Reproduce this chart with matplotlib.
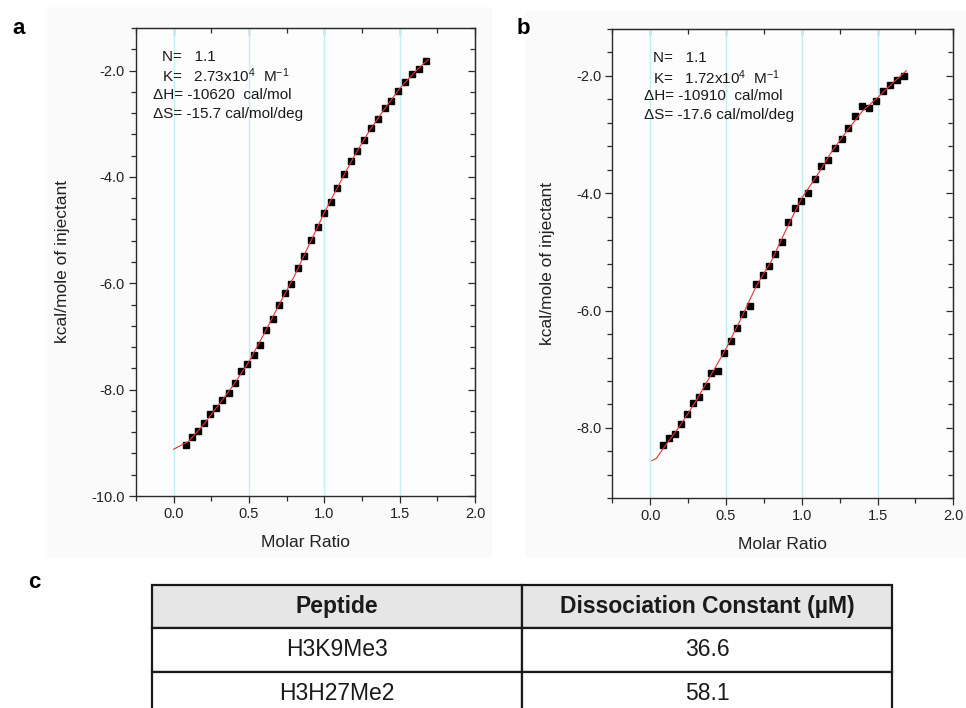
import matplotlib
matplotlib.use('Agg')
import matplotlib.pyplot as plt
from matplotlib.patches import Rectangle
from matplotlib.ticker import FormatStrFormatter
import numpy as np

plt.rcParams['font.family'] = ['Liberation Sans', 'DejaVu Sans']
plt.rcParams['mathtext.fontset'] = 'custom'
plt.rcParams['mathtext.rm'] = 'Liberation Sans'
plt.rcParams['mathtext.it'] = 'Liberation Sans:italic'
plt.rcParams['axes.unicode_minus'] = False

# panel a : H3K9Me3 titration
ratioA = [0.084, 0.124, 0.163, 0.203, 0.243, 0.283, 0.322, 0.364, 0.406, 0.446,
          0.488, 0.530, 0.572, 0.611, 0.656, 0.698, 0.737, 0.781, 0.823, 0.868,
          0.912, 0.956, 0.998, 1.042, 1.086, 1.130, 1.174, 1.219, 1.263, 1.309,
          1.353, 1.400, 1.444, 1.488, 1.534, 1.581, 1.627, 1.673]
heatA = [-9.04, -8.89, -8.77, -8.63, -8.46, -8.34, -8.20, -8.06, -7.87, -7.65,
         -7.52, -7.34, -7.16, -6.87, -6.68, -6.41, -6.19, -6.01, -5.71, -5.48,
         -5.19, -4.94, -4.68, -4.47, -4.21, -3.95, -3.70, -3.52, -3.30, -3.09,
         -2.91, -2.71, -2.58, -2.38, -2.22, -2.07, -1.98, -1.83]
fitRatioA = [0.0, 0.1, 0.2, 0.3, 0.4, 0.5, 0.6, 0.7, 0.8, 0.9, 1.0, 1.1, 1.2, 1.3, 1.4, 1.5, 1.6, 1.69]
fitHeatA = [-9.12, -8.97, -8.65, -8.28, -7.90, -7.47, -6.95, -6.40, -5.87, -5.27, -4.67, -4.13,
            -3.60, -3.13, -2.72, -2.34, -2.03, -1.79]
paramsA = ['N=   1.1', 'K=   2.73x10$^4$  M$^{-1}$', '\u0394H= -10620  cal/mol', '\u0394S= -15.7 cal/mol/deg']

# panel b : H3K27Me2 titration
ratioB = [0.084, 0.123, 0.163, 0.204, 0.242, 0.281, 0.323, 0.365, 0.404, 0.446,
          0.488, 0.530, 0.571, 0.613, 0.655, 0.699, 0.741, 0.782, 0.826, 0.868,
          0.912, 0.954, 0.998, 1.044, 1.088, 1.130, 1.174, 1.220, 1.264, 1.308,
          1.354, 1.400, 1.444, 1.490, 1.536, 1.582, 1.626, 1.675]
heatB = [-8.30, -8.18, -8.11, -7.93, -7.76, -7.58, -7.48, -7.28, -7.06, -7.03,
         -6.72, -6.52, -6.29, -6.06, -5.92, -5.54, -5.40, -5.24, -5.04, -4.83,
         -4.49, -4.25, -4.13, -4.00, -3.76, -3.54, -3.44, -3.23, -3.07, -2.88,
         -2.68, -2.51, -2.54, -2.42, -2.26, -2.15, -2.07, -2.00]
fitRatioB = [0.01, 0.04, 0.1, 0.2, 0.3, 0.4, 0.5, 0.6, 0.7, 0.8, 0.9, 1.0, 1.1, 1.2, 1.3, 1.4, 1.5, 1.6, 1.69]
fitHeatB = [-8.56, -8.52, -8.30, -7.95, -7.55, -7.10, -6.65, -6.13, -5.58, -5.15, -4.60, -4.08,
            -3.70, -3.28, -2.93, -2.60, -2.37, -2.12, -1.91]
paramsB = ['N=   1.1', 'K=   1.72x10$^4$  M$^{-1}$', '\u0394H= -10910  cal/mol', '\u0394S= -17.6 cal/mol/deg']

# panel c table
tableCols = ['Peptide', 'Dissociation Constant (\u00b5M)']
peptides = ['H3K9Me3', 'H3H27Me2']
kdValues = ['36.6', '58.1']

axisColor = '#2b2b2b'


def drawPanel(ax, ratio, heat, fitRatio, fitHeat, params, textX, ylim, yMajor, labelX):
    ax.set_facecolor('#fdfdfd')
    ax.set_xlim(-0.25, 2.0)
    ax.set_ylim(ylim)
    ax.grid(axis='x', which='major', color='#c4eef5', linewidth=1.0, zorder=0)
    ax.set_axisbelow(True)
    ax.plot(ratio, heat, 's', color='black', markersize=5.0, zorder=2)
    ax.plot(fitRatio, fitHeat, color='#e5333a', linewidth=0.8, zorder=3)

    ax.set_xticks(np.arange(0, 2.01, 0.5))
    ax.set_xticks(np.arange(-0.25, 2.01, 0.25), minor=True)
    ax.set_yticks(yMajor)
    yMinor = np.arange(ylim[0], ylim[1] + 0.01, 0.4)
    ax.set_yticks(yMinor, minor=True)
    ax.xaxis.set_major_formatter(FormatStrFormatter('%.1f'))
    ax.yaxis.set_major_formatter(FormatStrFormatter('%.1f'))
    ax.tick_params(which='both', direction='out', color=axisColor, width=0.9,
                   labelsize=10.5, labelcolor='#222222', pad=3)
    ax.tick_params(which='major', length=5)
    ax.tick_params(which='minor', length=3.5)
    for s in ax.spines.values():
        s.set_color(axisColor)
        s.set_linewidth(1.0)

    # inward ticks on top and right
    top = ax.secondary_xaxis('top')
    top.set_xticks(np.arange(0, 2.01, 0.5))
    top.set_xticks(np.arange(-0.25, 2.01, 0.25), minor=True)
    top.tick_params(axis='x', which='both', direction='in', labeltop=False, color=axisColor, width=0.9)
    top.tick_params(which='major', length=5)
    top.tick_params(which='minor', length=3.5)
    top.spines['top'].set_color(axisColor)
    right = ax.secondary_yaxis('right')
    right.set_yticks(yMajor)
    right.set_yticks(yMinor, minor=True)
    right.tick_params(axis='y', which='both', direction='in', labelright=False, color=axisColor, width=0.9)
    right.tick_params(which='major', length=5)
    right.tick_params(which='minor', length=3.5)
    right.spines['right'].set_color(axisColor)

    ax.set_xlabel('Molar Ratio', fontsize=12.5, color='#222222')
    ax.set_ylabel('kcal/mole of injectant', fontsize=12.5, color='#222222')
    ax.xaxis.set_label_coords(0.5, -0.083)
    ax.yaxis.set_label_coords(labelX, 0.5)

    lineY = [0.938, 0.897, 0.857, 0.816]
    for i, line in enumerate(params):
        ax.text(textX[i], lineY[i], line, transform=ax.transAxes, fontsize=11,
                va='center', ha='left', color='#1a1a1a')


fig = plt.figure(figsize=(9.66, 7.08), dpi=100)
fig.patch.set_facecolor('white')

# faint grey panel backgrounds
fig.patches.append(Rectangle((0.0487, 0.212), 0.461, 0.778, transform=fig.transFigure,
                             facecolor='#fafafa', edgecolor='none', zorder=-5))
fig.patches.append(Rectangle((0.5435, 0.212), 0.4565, 0.772, transform=fig.transFigure,
                             facecolor='#fafafa', edgecolor='none', zorder=-5))

axA = fig.add_axes([0.1408, 0.2994, 0.3509, 0.6611])
drawPanel(axA, ratioA, heatA, fitRatioA, fitHeatA, paramsA,
          [0.077, 0.077, 0.050, 0.050], (-10.0, -1.2), np.arange(-10, -1.9, 2.0), -0.195)

axB = fig.add_axes([0.6339, 0.2962, 0.3530, 0.6628])
drawPanel(axB, ratioB, heatB, fitRatioB, fitHeatB, paramsB,
          [0.119, 0.119, 0.093, 0.093], (-9.2, -1.2), np.arange(-8, -1.9, 2.0), -0.168)

fig.text(12 / 966, 1 - 34 / 708, 'a', fontsize=16, fontweight='bold', va='baseline')
fig.text(517 / 966, 1 - 34 / 708, 'b', fontsize=16, fontweight='bold', va='baseline')
fig.text(28 / 966, 1 - 588 / 708, 'c', fontsize=16, fontweight='bold', va='baseline')

# table
tax = fig.add_axes([152 / 966, 1 - 715 / 708, 740 / 966, 130 / 708])
tax.axis('off')
rows = [[p, k] for p, k in zip(peptides, kdValues)]
tbl = tax.table(cellText=rows, colLabels=tableCols, cellLoc='center', bbox=[0, 0, 1, 1])
tbl.auto_set_font_size(False)
for (r, c), cell in tbl.get_celld().items():
    cell.set_linewidth(1.6)
    cell.set_edgecolor('#1a1a1a')
    cell.get_text().set_fontsize(16.5)
    cell.get_text().set_color('#1a1a1a')
    if r == 0:
        cell.set_facecolor('#e6e6e6')
        cell.get_text().set_fontweight('bold')

fig.savefig('out.png', dpi=100)
